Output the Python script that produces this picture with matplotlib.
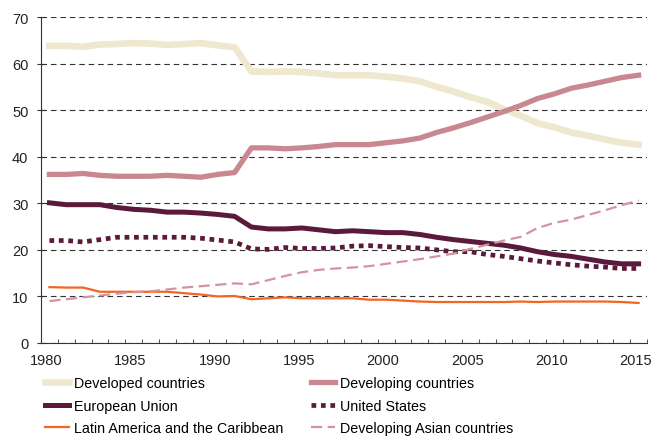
import numpy as np
from matplotlib import pyplot as plt
import matplotlib.transforms as mtransforms

plt.rcParams['font.family'] = ['Liberation Sans', 'DejaVu Sans']

years = list(range(1980, 2016))

developed = [63.8, 63.8, 63.6, 64.1, 64.2, 64.4, 64.3, 64.0, 64.2, 64.4, 63.9, 63.5,
             58.3, 58.2, 58.3, 58.2, 57.9, 57.5, 57.5, 57.5, 57.2, 56.8, 56.2, 55.0,
             54.0, 52.8, 51.8, 50.2, 48.8, 47.2, 46.3, 45.2, 44.5, 43.7, 43.0, 42.6]
developing = [36.2, 36.2, 36.4, 36.0, 35.8, 35.8, 35.8, 36.0, 35.8, 35.6, 36.2, 36.6,
              41.9, 41.9, 41.7, 41.9, 42.2, 42.6, 42.6, 42.6, 43.0, 43.4, 44.0, 45.2,
              46.2, 47.3, 48.5, 49.7, 51.0, 52.5, 53.5, 54.7, 55.4, 56.2, 57.0, 57.5]
eu = [30.1, 29.7, 29.7, 29.7, 29.1, 28.7, 28.5, 28.1, 28.1, 27.9, 27.6, 27.2,
      24.9, 24.5, 24.5, 24.7, 24.3, 23.9, 24.1, 23.9, 23.7, 23.7, 23.3, 22.7,
      22.2, 21.8, 21.4, 21.0, 20.4, 19.6, 19.0, 18.6, 18.0, 17.4, 17.0, 17.0]
us = [22.0, 22.0, 21.7, 22.2, 22.7, 22.7, 22.7, 22.7, 22.7, 22.5, 22.1, 21.7,
      20.2, 20.1, 20.5, 20.3, 20.3, 20.4, 20.8, 20.9, 20.7, 20.5, 20.4, 20.0,
      19.6, 19.6, 19.0, 18.6, 18.1, 17.6, 17.2, 16.8, 16.5, 16.3, 16.0, 16.0]
latam = [12.0, 11.9, 11.9, 11.0, 11.0, 11.0, 11.0, 11.0, 10.7, 10.4, 10.0, 10.1,
         9.4, 9.6, 9.8, 9.6, 9.6, 9.6, 9.6, 9.3, 9.3, 9.1, 8.9, 8.8,
         8.8, 8.8, 8.8, 8.8, 8.9, 8.8, 8.9, 8.9, 8.9, 8.9, 8.8, 8.6]
dev_asia = [9.0, 9.4, 9.8, 10.2, 10.6, 10.9, 11.1, 11.5, 11.9, 12.2, 12.5, 12.8,
            12.6, 13.5, 14.4, 15.2, 15.7, 16.0, 16.2, 16.5, 17.0, 17.5, 18.0, 18.6,
            19.2, 20.2, 21.1, 22.0, 22.8, 24.7, 25.8, 26.5, 27.5, 28.5, 29.6, 30.6]

fig = plt.figure(figsize=(6.53, 4.39), dpi=100)
ax = fig.add_axes([41 / 653, 95 / 439, 606 / 653, 326 / 439])

l1, = ax.plot(years, developed, color='#efe8cf', lw=4.8, label='Developed countries')
l2, = ax.plot(years, developing, color='#c9878f', lw=3.8, label='Developing countries')
l3, = ax.plot(years, eu, color='#5b1a3b', lw=3.6, label='European Union')
l4, = ax.plot(years, us, color='#5b1a3b', lw=3.4, ls=(0, (1, 1)), dash_capstyle='butt',
              label='United States')
l5, = ax.plot(years, latam, color='#f26522', lw=1.6, label='Latin America and the Caribbean')
l6, = ax.plot(years, dev_asia, color='#d4949c', lw=1.6, ls=(0, (5, 2.5)),
              label='Developing Asian countries')

# category-style x axis: points in the middle, ticks between years
ax.set_xlim(1979.5, 2015.5)
ax.set_ylim(0, 70)
ax.set_yticks(range(0, 71, 10))
ax.set_xticks(range(1980, 2016, 5))
ax.set_xticks([y - 0.5 for y in years] + [2015.5], minor=True)
ax.yaxis.grid(True, color='#333333', ls=(0, (5, 3.5)), lw=0.8)
ax.set_axisbelow(True)
for s in ['top', 'right']:
    ax.spines[s].set_visible(False)
for s in ['left', 'bottom']:
    ax.spines[s].set_color('#333333')
ax.tick_params(axis='x', which='major', length=0, pad=7, labelsize=10.5, labelcolor='#222222')
ax.tick_params(axis='x', which='minor', direction='in', length=3, color='#333333')
ax.tick_params(axis='y', direction='inout', length=6, color='#333333', pad=6,
               labelsize=10.5, labelcolor='#222222')

shift = mtransforms.ScaledTranslation(-3 / 100, 0, fig.dpi_scale_trans)
for lab in ax.get_xticklabels():
    lab.set_transform(lab.get_transform() + shift)

fig.legend(handles=[l1, l3, l5, l2, l4, l6], loc='upper left', ncol=2, frameon=False,
           fontsize=10.3, bbox_to_anchor=(45 / 653, 1 - 377 / 439), borderpad=0,
           borderaxespad=0, handlelength=1.7, handletextpad=0.35,
           columnspacing=1.9, labelspacing=0.6)

plt.savefig('out.png', dpi=100)
